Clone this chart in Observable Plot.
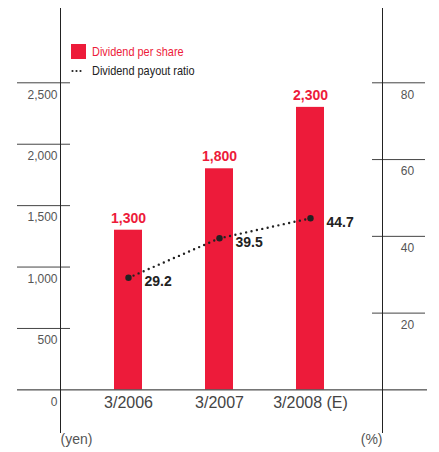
<!DOCTYPE html>
<html>
<head>
<meta charset="utf-8">
<script src="https://cdn.jsdelivr.net/npm/d3@7"></script>
<script src="https://cdn.jsdelivr.net/npm/@observablehq/plot@0.6"></script>
<style>
  body { margin: 0; background: #fff; }
  #chart { position: relative; width: 439px; height: 452px; }
  .legend {
    position: absolute; left: 71px; top: 42px;
    font-family: "Liberation Sans", Arial, sans-serif;
    font-size: 13px; line-height: 19px;
  }
  .legend .row { display: flex; align-items: center; height: 19px; white-space: nowrap; }
  .legend .swatch { width: 15px; height: 15px; background: #ED1B3A; margin-right: 6px; }
  .legend .dots { width: 15px; height: 15px; margin-right: 6px; }
  .legend .label { display: inline-block; transform: scaleX(0.84); transform-origin: left center; }
</style>
</head>
<body>
<div id="chart">
  <div class="legend">
    <div class="row"><span class="swatch"></span><span class="label" style="color:#ED1B3A">Dividend per share</span></div>
    <div class="row"><svg class="dots" viewBox="0 0 15 15"><line x1="1.5" y1="8" x2="10" y2="8" stroke="#222" stroke-width="2.2" stroke-linecap="round" stroke-dasharray="0 4"/></svg><span class="label" style="color:#222">Dividend payout ratio</span></div>
  </div>
</div>
<script>
// Fiscal periods, dividend per share (yen) and payout ratio (%)
const periods = ["3/2006", "3/2007", "3/2008 (E)"];
const dividend = [1300, 1800, 2300];
const payout = [29.2, 39.5, 44.7];

// Axis tick values
const yenTicks = [0, 500, 1000, 1500, 2000, 2500];
const pctTicks = [20, 40, 60, 80];

// The right axis (%) shares the yen scale: 80% lines up with 2,500 yen
const PCT_TO_YEN = 2500 / 80;
const RED = "#ED1B3A";

const rows = periods.map((p, i) => ({
  period: p,
  dividend: dividend[i],
  payout: payout[i],
  payoutY: payout[i] * PCT_TO_YEN
}));

const fmt = d3.format(",");

const chart = Plot.plot({
  width: 439,
  height: 452,
  marginTop: 8,
  marginBottom: 20,
  marginLeft: 60,
  marginRight: 57,
  style: { fontFamily: "'Liberation Sans', Arial, sans-serif", background: "white" },
  x: { type: "band", domain: periods, paddingInner: 0.694, paddingOuter: 0.607, align: 0.48, axis: null },
  y: { domain: [-347, 3105], axis: null },
  marks: [
    // short grid ticks crossing the left axis
    Plot.ruleY(yenTicks.filter(d => d > 0), { y: d => d, insetLeft: -43, insetRight: 312, stroke: "#444" }),
    // short grid ticks crossing the right axis
    Plot.ruleY(pctTicks, { y: d => d * PCT_TO_YEN, insetLeft: 312, insetRight: -43, stroke: "#444" }),
    // dividend bars
    Plot.barY(rows, { x: "period", y: "dividend", fill: RED }),
    // baseline
    Plot.ruleY([0], { insetLeft: -43, insetRight: -45, stroke: "#222" }),
    // vertical axis lines
    Plot.frame({ anchor: "left", stroke: "#222" }),
    Plot.frame({ anchor: "right", stroke: "#222" }),
    // payout ratio dotted line
    Plot.line(rows, { x: "period", y: "payoutY", stroke: "#222", strokeWidth: 2.4, strokeDasharray: "0 5.5", strokeLinecap: "round" }),
    Plot.dot(rows, { x: "period", y: "payoutY", r: 3.2, fill: "#222" }),
    // value labels
    Plot.text(rows, { x: "period", y: "dividend", text: d => fmt(d.dividend), dy: -12, fill: RED, fontWeight: "bold", fontSize: 14 }),
    Plot.text(rows, { x: "period", y: "payoutY", text: d => d.payout.toFixed(1), textAnchor: "start", dx: 16, dy: 4, fill: "#222", fontWeight: "bold", fontSize: 14 }),
    // category labels under the baseline
    Plot.text(rows, { x: "period", y: 0, text: "period", dy: 13, fontSize: 16, fill: "#444" }),
    // left (yen) tick labels
    Plot.text(yenTicks, { y: d => d, text: d => fmt(d), frameAnchor: "left", textAnchor: "end", dx: -3, dy: 12, fontSize: 12, fill: "#555", style: "letter-spacing:-0.4px" }),
    // right (%) tick labels
    Plot.text(pctTicks, { y: d => d * PCT_TO_YEN, text: d => String(d), frameAnchor: "right", textAnchor: "middle", dx: 25, dy: 12, fontSize: 12, fill: "#555" }),
    // unit labels
    Plot.text(["(yen)"], { text: d => d, frameAnchor: "bottom-left", dy: 11, fontSize: 14, fill: "#555" }),
    Plot.text(["(%)"], { text: d => d, frameAnchor: "bottom-right", dy: 11, fontSize: 14, fill: "#555" })
  ]
});

document.getElementById("chart").prepend(chart);
</script>
</body>
</html>
